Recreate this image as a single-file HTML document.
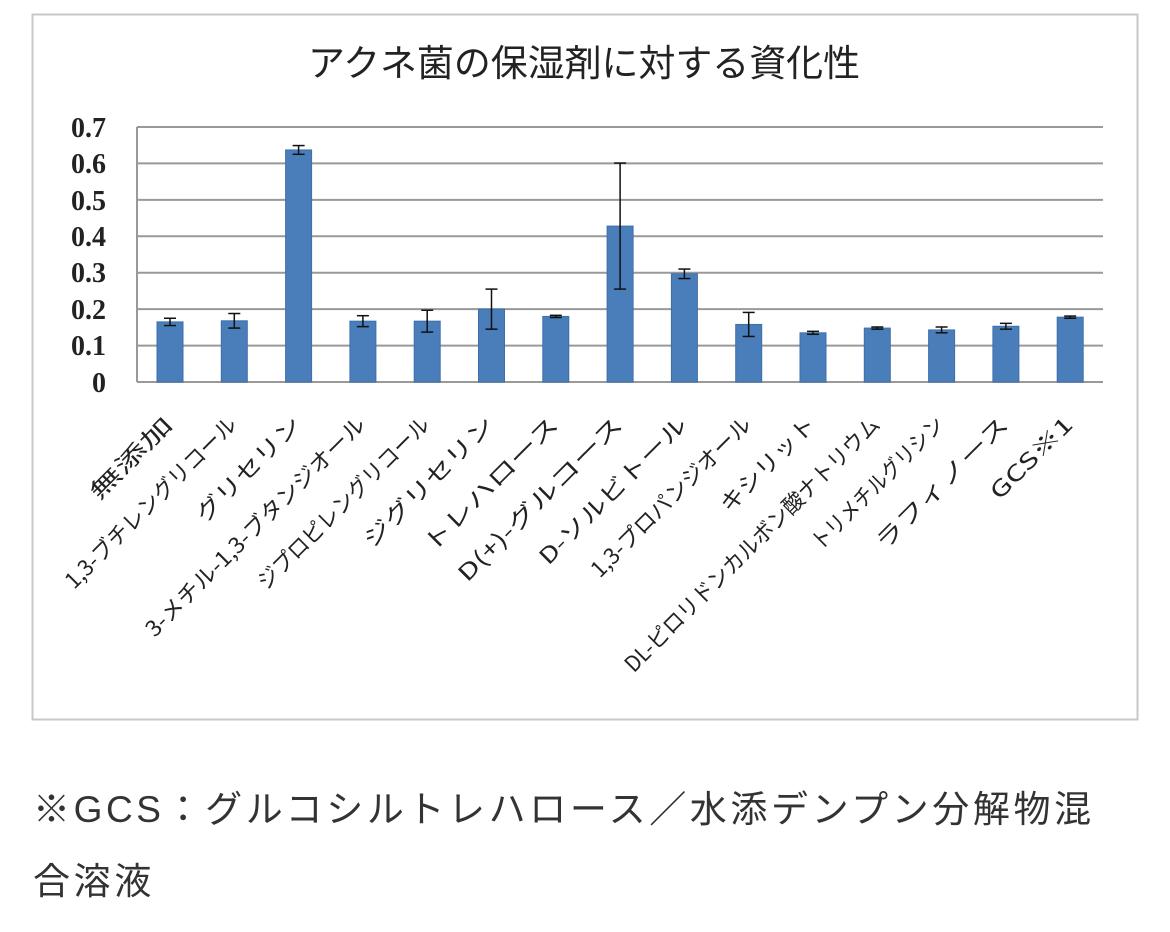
<!DOCTYPE html>
<html><head><meta charset="utf-8"><style>
body{margin:0;background:#fff;width:1170px;height:932px;overflow:hidden}
.cap{position:absolute;left:33px;font-family:"Liberation Sans","Noto Sans CJK JP",sans-serif;font-size:37px;letter-spacing:3.6px;color:#333;white-space:nowrap}
</style></head><body>
<svg width="1170" height="932" style="position:absolute;left:0;top:0">
<rect x="32.5" y="14.5" width="1105" height="705" fill="#fff" stroke="#c8c8c8" stroke-width="2"/>
<text x="584" y="76" text-anchor="middle" font-family="Noto Sans CJK JP,sans-serif" font-size="37" fill="#222" textLength="552" lengthAdjust="spacingAndGlyphs">アクネ菌の保湿剤に対する資化性</text>
<g stroke="#999" stroke-width="2">
<line x1="137" y1="127" x2="1103" y2="127"/>
<line x1="137" y1="163.4" x2="1103" y2="163.4"/>
<line x1="137" y1="199.9" x2="1103" y2="199.9"/>
<line x1="137" y1="236.3" x2="1103" y2="236.3"/>
<line x1="137" y1="272.7" x2="1103" y2="272.7"/>
<line x1="137" y1="309.1" x2="1103" y2="309.1"/>
<line x1="137" y1="345.6" x2="1103" y2="345.6"/>
<line x1="137" y1="382" x2="1103" y2="382"/>
<line x1="137" y1="127" x2="137" y2="382"/>
</g>
<g font-family="Liberation Serif,serif" font-weight="bold" font-size="28" fill="#222" text-anchor="end">
<text x="106" y="137">0.7</text><text x="106" y="173">0.6</text><text x="106" y="210">0.5</text><text x="106" y="246">0.4</text><text x="106" y="282">0.3</text><text x="106" y="319">0.2</text><text x="106" y="355">0.1</text><text x="106" y="392">0</text>
</g>
<g id="bars"></g>
<g id="labels" font-family="Noto Sans CJK JP,sans-serif" font-size="22" fill="#222"></g>
</svg>
<div class="cap" style="top:779px">※GCS：グルコシルトレハロース／水添デンプン分解物混</div>
<div class="cap" style="top:851px">合溶液</div>
<script>
var v=[[.165,.01],[.168,.02],[.637,.012],[.167,.015],[.167,.03],[.2,.055],[.18,.003],[.428,.173],[.297,.013],[.158,.033],[.135,.004],[.148,.003],[.143,.008],[.153,.008],[.178,.003]];
var L=[["無添加",106],["1,3-ブチレングリコール",232],["グリセリン",138],["3-メチル-1,3-ブタンジオール",300],["ジプロピレングリコール",233],["ジグリセリン",174],["トレハロース",180],["D(+)-グルコース",222],["D-ソルビトール",198],["1,3-プロパンジオール",216],["キシリット",124],["DL-ピロリドンカルボン酸ナトリウム",350],["トリメチルグリシン",177],["ラフィノース",177],["GCS※1",106]];
var s="",t="",k=364.3;
v.forEach(function(d,i){var c=170+64.3*i,y=382-d[0]*k,y1=382-(d[0]+d[1])*k,y2=382-(d[0]-d[1])*k;
s+='<rect x="'+(c-13)+'" y="'+y+'" width="26" height="'+(382-y)+'" fill="#4a7ebb" stroke="#3f6fa8" stroke-width="1"/>';
s+='<g stroke="#111" stroke-width="1.5"><line x1="'+c+'" y1="'+y1+'" x2="'+c+'" y2="'+y2+'"/><line x1="'+(c-6)+'" y1="'+y1+'" x2="'+(c+6)+'" y2="'+y1+'"/><line x1="'+(c-6)+'" y1="'+y2+'" x2="'+(c+6)+'" y2="'+y2+'"/></g>';
t+='<text transform="translate('+(c+4)+',426) rotate(-45)" text-anchor="end" textLength="'+L[i][1]+'" lengthAdjust="spacingAndGlyphs">'+L[i][0]+'</text>';});
document.getElementById("bars").innerHTML=s;document.getElementById("labels").innerHTML=t;
</script>
</body></html>
